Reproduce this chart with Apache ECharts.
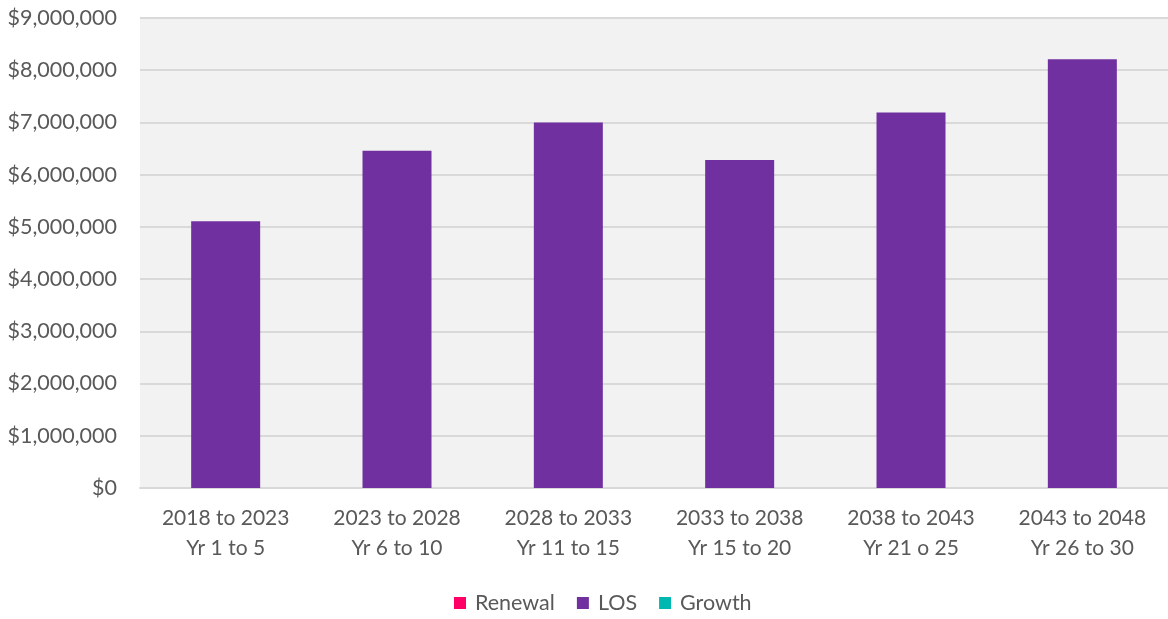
<!DOCTYPE html>
<html>
<head>
<meta charset="utf-8">
<script src="https://cdn.jsdelivr.net/npm/echarts@6/dist/echarts.min.js"></script>
<style>
html,body{margin:0;padding:0;background:#fff;}
#c{width:1168px;height:619px;}
</style>
</head>
<body>
<div id="c"></div>
<script>
const categories = ['2018 to 2023\nYr 1 to 5','2023 to 2028\nYr 6 to 10','2028 to 2033\nYr 11 to 15','2033 to 2038\nYr 15 to 20','2038 to 2043\nYr 21 o 25','2043 to 2048\nYr 26 to 30'];
const renewal = [0,0,0,0,0,0];
const los = [5110000,6460000,7000000,6280000,7190000,8210000];
const growth = [0,0,0,0,0,0];

const FONT = 'Lato';
const chart = echarts.init(document.getElementById('c'));
chart.setOption({
  animation:false,
  textStyle:{fontFamily:FONT},
  grid:{left:140,right:0,top:18,bottom:131,show:true,backgroundColor:'#f2f2f2',borderWidth:0},
  legend:{
    top:587,left:449,itemWidth:12,itemHeight:12,itemGap:22,
    icon:'rect',
    textStyle:{color:'#595959',fontSize:21.5,fontFamily:FONT,padding:[0,0,0,4]},
    data:['Renewal','LOS','Growth']
  },
  xAxis:{
    type:'category',data:categories,
    axisLine:{show:true,lineStyle:{color:'#d9d9d9',width:2}},
    axisTick:{show:false},
    axisLabel:{color:'#595959',fontSize:21,lineHeight:30,margin:15,fontFamily:FONT}
  },
  yAxis:{
    type:'value',min:0,max:9000000,interval:1000000,
    axisLine:{show:false},axisTick:{show:false},
    splitLine:{lineStyle:{color:'#d9d9d9',width:2}},
    axisLabel:{color:'#595959',fontSize:21.5,margin:23,fontFamily:FONT,
      formatter:v=>'$'+v.toLocaleString('en-US')}
  },
  series:[
    {name:'Renewal',type:'bar',stack:'t',data:renewal,itemStyle:{color:'#ff0066'},barWidth:69},
    {name:'LOS',type:'bar',stack:'t',data:los,itemStyle:{color:'#7030a0'},barWidth:69},
    {name:'Growth',type:'bar',stack:'t',data:growth,itemStyle:{color:'#00b8b0'},barWidth:69}
  ]
});
</script>
</body>
</html>
